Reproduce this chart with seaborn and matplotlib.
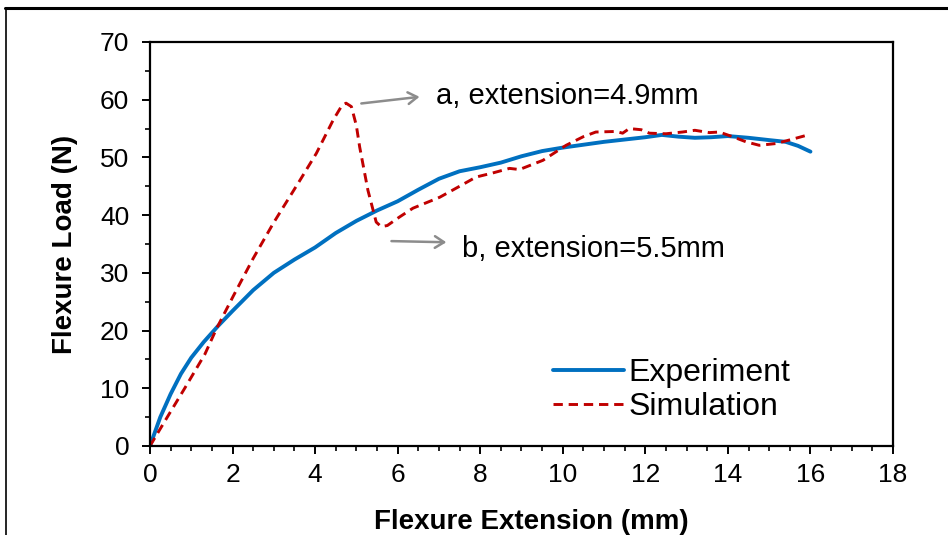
import matplotlib
matplotlib.use("Agg")
import matplotlib.pyplot as plt
from matplotlib.lines import Line2D
from matplotlib.ticker import MultipleLocator
import pandas as pd
import seaborn as sns

# Load-extension curves of the flexure test
exp_x = [0, 0.25, 0.5, 0.75, 1.0, 1.3, 1.65, 2.0, 2.5, 3.0, 3.5, 4.0, 4.5, 5.0,
         5.5, 6.0, 6.5, 7.0, 7.5, 8.0, 8.5, 9.0, 9.5, 10.0, 10.5, 11.0, 11.5,
         12.0, 12.4, 12.8, 13.2, 13.6, 14.0, 14.5, 15.0, 15.4, 15.7, 16.0]
exp_y = [0, 5.0, 9.0, 12.5, 15.3, 18.0, 20.8, 23.4, 27.0, 30.0, 32.3, 34.4, 36.9, 39.0,
         40.8, 42.4, 44.4, 46.3, 47.6, 48.3, 49.1, 50.2, 51.1, 51.7, 52.2, 52.7, 53.1,
         53.5, 53.9, 53.6, 53.4, 53.5, 53.7, 53.4, 53.0, 52.7, 52.0, 51.0]

sim_x = [0, 0.36, 0.85, 1.33, 1.61, 2.02, 2.5, 2.98, 3.23, 3.63, 4.03, 4.44, 4.65,
         4.75, 4.88, 5.0, 5.08, 5.28, 5.48, 5.6, 5.75, 6.05, 6.37, 7.02, 7.5, 7.9,
         8.3, 8.71, 8.95, 9.52, 10.08, 10.5, 10.8, 11.29, 11.45, 11.61, 11.9, 12.1,
         12.5, 12.9, 13.2, 13.55, 13.79, 14.11, 14.44, 14.76, 15.16, 15.48, 15.89, 16.0]
sim_y = [0, 4.3, 10.1, 15.9, 20.3, 26.0, 32.5, 38.5, 41.4, 46.0, 50.7, 56.5, 59.0,
         59.4, 58.8, 55.5, 51.8, 44.3, 38.8, 38.0, 38.2, 39.7, 41.2, 43.1, 45.0, 46.6,
         47.3, 48.1, 47.9, 49.5, 52.1, 53.6, 54.4, 54.5, 54.2, 55.0, 54.8, 54.2,
         54.1, 54.4, 54.7, 54.3, 54.4, 53.6, 52.7, 52.1, 52.4, 53.0, 53.8, 53.9]

series_names = ["Experiment", "Simulation"]
annotation_texts = ["a, extension=4.9mm", "b, extension=5.5mm"]

sns.set_theme(style="ticks")
plt.rcParams["font.family"] = ["Liberation Sans", "DejaVu Sans"]

fig = plt.figure(figsize=(9.48, 5.35), dpi=100)
ax = fig.add_axes([0.1582, 0.1664, 0.7838, 0.7551])

df_exp = pd.DataFrame({"x": exp_x, "y": exp_y})
df_sim = pd.DataFrame({"x": sim_x, "y": sim_y})

sns.lineplot(data=df_exp, x="x", y="y", ax=ax, color="#0070C0", lw=2.8,
             estimator=None, sort=False, label=series_names[0])
sns.lineplot(data=df_sim, x="x", y="y", ax=ax, color="#C00000", lw=2.1,
             estimator=None, sort=False, label=series_names[1],
             dashes=False)
ax.lines[0].set_solid_joinstyle("round")
ax.lines[0].set_solid_capstyle("round")
ax.lines[1].set_dashes((3.2, 2.0))
ax.lines[1].set_dash_joinstyle("round")

ax.set_xlim(0, 18)
ax.set_ylim(0, 70)
ax.xaxis.set_major_locator(MultipleLocator(2))
ax.xaxis.set_minor_locator(MultipleLocator(0.5))
ax.yaxis.set_major_locator(MultipleLocator(10))
ax.yaxis.set_minor_locator(MultipleLocator(5))

ax.tick_params(axis="both", which="major", direction="out", length=6, width=1.4,
               color="black", labelsize=19, labelcolor="black")
ax.tick_params(axis="both", which="minor", direction="out", length=3.5, width=1.2,
               color="black")
ax.tick_params(axis="x", which="major", pad=6)
ax.tick_params(axis="y", which="major", pad=9)

for side in ["left", "bottom", "top", "right"]:
    ax.spines[side].set_visible(True)
    ax.spines[side].set_color("black")
    ax.spines[side].set_linewidth(1.6)

ax.set_xlabel("Flexure Extension (mm)", fontsize=20, fontweight="bold",
              color="black")
ax.xaxis.set_label_coords(0.513, -0.155)
ax.set_ylabel("Flexure Load (N)", fontsize=20, fontweight="bold",
              color="black", labelpad=16)

leg = ax.legend(loc="center left", bbox_to_anchor=(0.543, 0.139), frameon=False,
                fontsize=23, handlelength=2.2, handletextpad=0.15,
                labelspacing=0.12, borderpad=0.0, borderaxespad=0.0)
for t in leg.get_texts():
    t.set_color("black")

# Callout arrows for the two marked states
arrow_kw = dict(arrowstyle="->,head_length=0.55,head_width=0.35",
                color="#8C8C8C", lw=1.8, shrinkA=0, shrinkB=0)
ax.annotate("", xy=(6.53, 60.5), xytext=(5.12, 59.35), arrowprops=arrow_kw)
ax.annotate("", xy=(7.18, 35.3), xytext=(5.85, 35.5), arrowprops=arrow_kw)
ax.text(6.94, 60.6, annotation_texts[0], fontsize=21, color="black",
        ha="left", va="center")
ax.text(7.57, 34.2, annotation_texts[1], fontsize=21, color="black",
        ha="left", va="center")

# Frame lines along the top and left edge of the figure
fig.add_artist(Line2D([5 / 948, 1.0], [1 - 8 / 535, 1 - 8 / 535],
                      transform=fig.transFigure, color="black", lw=2.2))
fig.add_artist(Line2D([6 / 948, 6 / 948], [0.0, 1 - 8 / 535],
                      transform=fig.transFigure, color="black", lw=1.2))

fig.savefig("out.png", dpi=100)
